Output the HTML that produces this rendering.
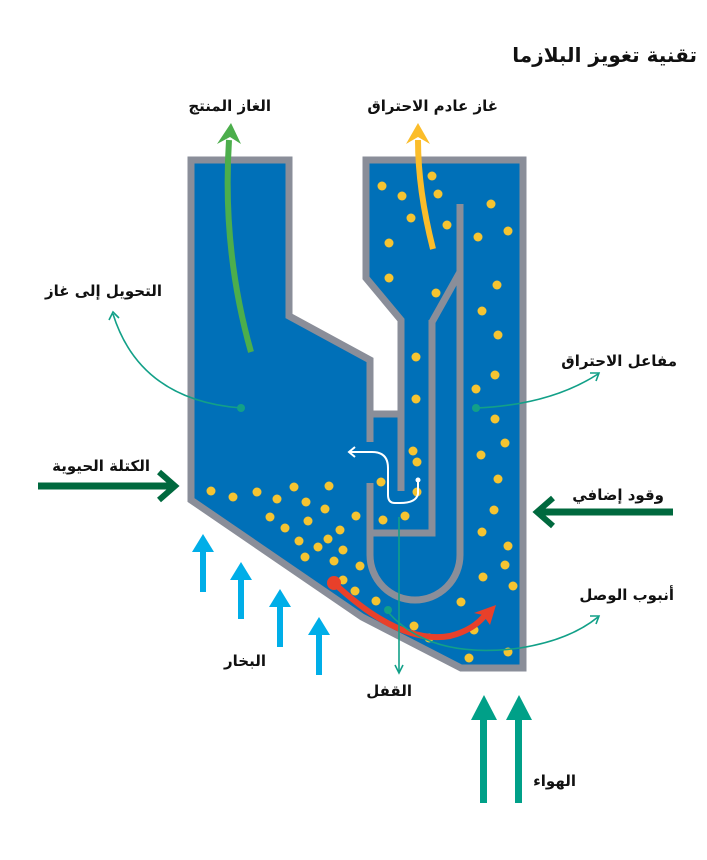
<!DOCTYPE html>
<html><head><meta charset="utf-8"><style>
html,body{margin:0;padding:0;background:#fff;}
svg{display:block}
text{font-family:"DejaVu Sans","Liberation Sans",sans-serif;font-weight:bold;fill:#111;}
</style></head><body>
<svg width="707" height="860" viewBox="0 0 707 860" xmlns="http://www.w3.org/2000/svg">
<text x="697" y="62" font-size="20" text-anchor="end">تقنية تغويز البلازما</text>
<text x="271" y="111" font-size="15" text-anchor="end">الغاز المنتج</text>
<text x="498" y="111" font-size="15" text-anchor="end">غاز عادم الاحتراق</text>
<text x="162" y="296" font-size="15" text-anchor="end">التحويل إلى غاز</text>
<text x="677" y="366" font-size="15" text-anchor="end">مفاعل الاحتراق</text>
<text x="150" y="471" font-size="15" text-anchor="end">الكتلة الحيوية</text>
<text x="664" y="500" font-size="15" text-anchor="end">وقود إضافي</text>
<text x="674" y="600" font-size="15" text-anchor="end">أنبوب الوصل</text>
<text x="266" y="666" font-size="15" text-anchor="end">البخار</text>
<text x="412" y="696" font-size="15" text-anchor="end">القفل</text>
<text x="576" y="786" font-size="15" text-anchor="end">الهواء</text>

<!-- reactor -->
<path d="M191,160 L289,160 L289,316 L370,360 L370,414 L401,414 L401,320 L366,278 L366,160 L523,160 L523,668 L461,668 L362,617 L191,500 Z" fill="#0070b8" stroke="#8a8e99" stroke-width="7" stroke-linejoin="miter"/>
<g fill="none" stroke="#8a8e99" stroke-width="7">
<path d="M370,414 L370,442"/>
<path d="M370,483 L370,555 A45,45 0 0 0 460,555 L460,204"/>
<path d="M401,414 L401,491"/>
<path d="M370,533 L432,533 L432,320"/>
<path d="M432,322 L460,272"/>
</g>

<!-- dots -->
<g fill="#f5c431">
<circle cx="382" cy="186" r="4.5"/><circle cx="432" cy="176" r="4.5"/><circle cx="402" cy="196" r="4.5"/><circle cx="438" cy="194" r="4.5"/><circle cx="411" cy="218" r="4.5"/><circle cx="447" cy="225" r="4.5"/><circle cx="389" cy="243" r="4.5"/><circle cx="491" cy="204" r="4.5"/><circle cx="508" cy="231" r="4.5"/><circle cx="478" cy="237" r="4.5"/><circle cx="389" cy="278" r="4.5"/><circle cx="436" cy="293" r="4.5"/><circle cx="497" cy="285" r="4.5"/><circle cx="482" cy="311" r="4.5"/><circle cx="498" cy="335" r="4.5"/><circle cx="495" cy="375" r="4.5"/><circle cx="476" cy="389" r="4.5"/><circle cx="416" cy="357" r="4.5"/><circle cx="416" cy="399" r="4.5"/><circle cx="495" cy="419" r="4.5"/><circle cx="505" cy="443" r="4.5"/><circle cx="481" cy="455" r="4.5"/><circle cx="498" cy="479" r="4.5"/><circle cx="413" cy="451" r="4.5"/><circle cx="417" cy="462" r="4.5"/><circle cx="417" cy="492" r="4.5"/><circle cx="381" cy="482" r="4.5"/><circle cx="494" cy="510" r="4.5"/><circle cx="482" cy="532" r="4.5"/><circle cx="508" cy="546" r="4.5"/><circle cx="505" cy="565" r="4.5"/><circle cx="483" cy="577" r="4.5"/><circle cx="513" cy="586" r="4.5"/><circle cx="461" cy="602" r="4.5"/><circle cx="474" cy="630" r="4.5"/><circle cx="508" cy="652" r="4.5"/><circle cx="469" cy="658" r="4.5"/><circle cx="405" cy="516" r="4.5"/><circle cx="383" cy="520" r="4.5"/><circle cx="356" cy="516" r="4.5"/><circle cx="414" cy="626" r="4.5"/><circle cx="429" cy="638" r="4.5"/><circle cx="376" cy="601" r="4.5"/><circle cx="355" cy="591" r="4.5"/><circle cx="343" cy="580" r="4.5"/><circle cx="360" cy="566" r="4.5"/><circle cx="334" cy="561" r="4.5"/><circle cx="343" cy="550" r="4.5"/><circle cx="305" cy="557" r="4.5"/><circle cx="318" cy="547" r="4.5"/><circle cx="328" cy="539" r="4.5"/><circle cx="340" cy="530" r="4.5"/><circle cx="299" cy="541" r="4.5"/><circle cx="285" cy="528" r="4.5"/><circle cx="308" cy="521" r="4.5"/><circle cx="270" cy="517" r="4.5"/><circle cx="325" cy="509" r="4.5"/><circle cx="306" cy="502" r="4.5"/><circle cx="277" cy="499" r="4.5"/><circle cx="329" cy="486" r="4.5"/><circle cx="294" cy="487" r="4.5"/><circle cx="257" cy="492" r="4.5"/><circle cx="233" cy="497" r="4.5"/><circle cx="211" cy="491" r="4.5"/>
</g>

<!-- green product gas arrow -->
<path d="M251,352 Q222,250 229,140" fill="none" stroke="#4cae4c" stroke-width="6"/>
<polygon points="231,123 217,144 230,137 241,144" fill="#4cae4c"/>
<!-- yellow exhaust arrow -->
<path d="M433,249 Q418,190 418,140" fill="none" stroke="#fbbd2a" stroke-width="6"/>
<polygon points="418,123 406,144 418,137 430,144" fill="#fbbd2a"/>
<!-- red arrow -->
<circle cx="334" cy="583" r="7" fill="#e8402a"/>
<path d="M334,583 Q400,645 450,636 Q474,630 486,614" fill="none" stroke="#e8402a" stroke-width="6"/>
<polygon points="496,605 474,613 483,615 490,625" fill="#e8402a"/>
<!-- white arrow -->
<circle cx="418" cy="480" r="2.5" fill="#fff"/>
<path d="M418,480 L418,494 Q416,503 400,503 L395,503 Q388,503 388,495 L388,468 Q388,452 372,452 L350,452" fill="none" stroke="#fff" stroke-width="2"/>
<polyline points="355,447 349,452 355,457" fill="none" stroke="#fff" stroke-width="2"/>

<!-- teal callouts -->
<g fill="none" stroke="#12a088" stroke-width="1.6">
<path d="M241,408 Q140,400 113,314"/>
<polyline points="109,320 113,312 119,318"/>
<path d="M476,408 Q550,405 598,374"/>
<polyline points="590,373 599,373 596,381"/>
<path d="M388,612 Q430,660 520,648 Q570,640 598,617"/>
<polyline points="590,616 599,616 596,624"/>
<path d="M399,517 L399,672"/>
<polyline points="395,665 399,673 403,665"/>
</g>
<g fill="#12a088"><circle cx="241" cy="408" r="4"/><circle cx="476" cy="408" r="4"/><circle cx="388" cy="610" r="4"/></g>

<!-- biomass & fuel arrows -->
<g stroke="#00693e" stroke-width="7" fill="none">
<path d="M38,486 L172,486"/>
<polyline points="159,472 175,486 159,500" stroke-width="6"/>
<path d="M673,512 L540,512"/>
<polyline points="553,498 537,512 553,526" stroke-width="6"/>
</g>

<!-- steam arrows -->
<g fill="#00aee8">
<rect x="200" y="548" width="6" height="44"/><polygon points="203,534 192,552 214,552"/>
<rect x="238" y="576" width="6" height="43"/><polygon points="241,562 230,580 252,580"/>
<rect x="277" y="603" width="6" height="44"/><polygon points="280,589 269,607 291,607"/>
<rect x="316" y="631" width="6" height="44"/><polygon points="319,617 308,635 330,635"/>
</g>
<!-- air arrows -->
<g fill="#00a088">
<rect x="480" y="715" width="7" height="88"/><polygon points="484,695 471,720 497,720"/>
<rect x="515" y="715" width="7" height="88"/><polygon points="519,695 506,720 532,720"/>
</g>
</svg>
</body></html>
